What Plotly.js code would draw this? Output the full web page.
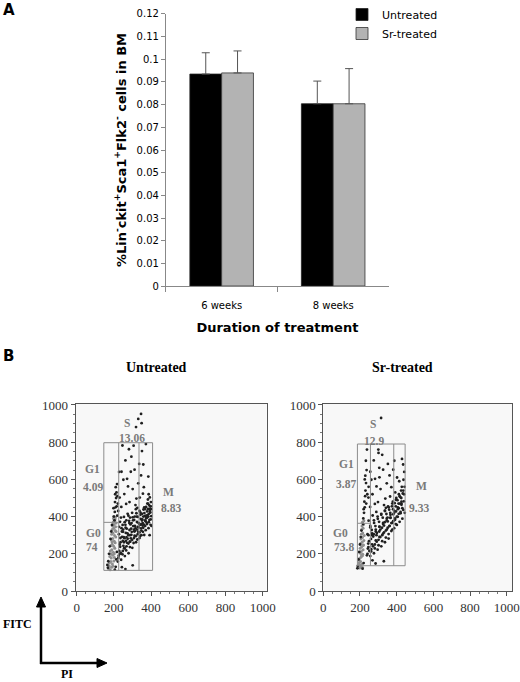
<!DOCTYPE html>
<html>
<head>
<meta charset="utf-8">
<script src="https://cdn.plot.ly/plotly-3.0.1.min.js"></script>
<style>html,body{margin:0;padding:0;background:#fff;}#chart{width:520px;height:682px;}</style>
</head>
<body>
<div id="chart"></div>
<script>
// ---------- Panel A data ----------
const categories = ['6 weeks', '8 weeks'];
const untreatedMean = [0.0935, 0.0804];
const untreatedErr = [0.0094, 0.0100];
const srMean = [0.0940, 0.0804];
const srErr = [0.0097, 0.0155];
const yTickVals = [0, 0.01, 0.02, 0.03, 0.04, 0.05, 0.06, 0.07, 0.08, 0.09, 0.1, 0.11, 0.12];
const yTickText = ['0', '0.01', '0.02', '0.03', '0.04', '0.05', '0.06', '0.07', '0.08', '0.09', '0.1', '0.11', '0.12'];

// ---------- Panel B data (PI on x, FITC on y) ----------
const flowTicks = [0, 200, 400, 600, 800, 1000];
const gateNames = ['G0', 'G1', 'S', 'M'];
const untreatedPct = ['74', '4.09', '13.06', '8.83'];
const srPct = ['73.8', '3.87', '12.9', '9.33'];
// gate edges: left, G1|S, S|M, right  /  bottom, G0|G1, top
const untreatedGateX = [146, 226, 335, 408];
const untreatedGateY = [111, 369, 797];
const srGateX = [186, 257, 384, 446];
const srGateY = [136, 364, 790];

// Untreated: dense G0 population
const untreatedG0PI = [172,180,188,195,176,184,192,200,178,186,194,202,181,189,197,205,183,191,199,207,186,194,202,210,188,196,204,212,191,199,207,193,201,209,196,204,212,198,206,200,208,175,203,190,185];
const untreatedG0FITC = [120,115,128,135,150,158,145,162,185,178,192,200,215,222,208,230,245,252,240,260,275,282,268,290,305,312,298,320,330,338,325,350,358,345,370,378,365,390,385,400,395,135,180,265,200];
// Untreated: other events
const untreatedPI = [168,170,174,178,182,186,190,165,205,210,213,216,
 200,205,209,206,212,214,210,217,203,215,219,221,207,223,198,218,
 224,229,236,227,241,233,246,251,257,249,262,254,266,271,277,269,282,274,286,291,296,289,301,306,311,316,309,321,326,331,336,329,341,346,351,343,356,361,366,359,371,376,381,373,386,391,396,389,393,399,383,379,397,363,319,299,279,259,239,221,244,264,284,304,324,344,364,384,234,254,274,294,314,334,354,374,394,401,387,395,380,368,348,338,285,255,232,247,267,287,312,352,392,402,
 240,256,271,284,301,311,321,262,294,331,346,276,251,316,336,281,306,351,361,241,266,291,326,231,339,356,331,346,349,319,262,301,243,246,372,385,228,358];
const untreatedFITC = [125,160,200,240,280,320,355,140,115,130,170,210,
 400,425,450,478,500,530,558,575,380,455,510,470,520,430,445,405,
 178,215,262,305,338,372,197,243,284,318,356,398,218,259,302,335,377,415,236,283,318,358,396,258,297,338,382,418,277,318,362,398,296,337,379,421,318,357,402,438,327,368,408,452,338,382,422,462,503,478,492,428,356,301,262,232,203,188,168,158,291,312,328,349,371,388,419,441,238,262,281,302,323,342,352,391,441,402,520,455,470,380,300,285,265,230,200,355,380,395,400,415,300,350,
 452,521,603,478,548,652,497,702,722,579,621,562,598,462,683,762,781,752,558,641,468,641,447,502,502,523,925,952,902,881,118,138,128,782,790,615,640,680];
// Untreated: dense S/M body events
const untreatedBodyPI = [226,231,237,243,248,253,258,263,268,273,278,283,288,293,298,303,308,313,318,323,328,333,338,343,348,353,358,363,368,373,378,383,388,393,398,
 228,238,248,258,268,278,288,298,308,318,328,338,348,358,368,378,388,398,
 235,250,265,280,295,310,325,340,355,370,385,400];
const untreatedBodyFITC = [190,250,205,320,215,290,230,340,240,310,255,365,265,335,275,380,285,350,295,400,305,365,315,410,325,385,340,450,350,405,360,470,370,430,385,
 345,395,270,370,290,405,300,420,330,440,345,430,360,400,440,395,415,455,
 285,330,270,300,365,320,330,355,365,375,400,440];

// Sr-treated: dense G0 population
const srG0PI = [190,198,206,214,195,203,211,197,205,213,199,207,215,201,209,217,203,211,219,205,213,221,207,215,223,209,217,211,219,213,221,200,194,216,208];
const srG0FITC = [128,124,132,127,150,158,145,175,182,190,205,212,198,230,238,222,255,262,248,280,288,272,305,312,298,330,338,350,358,370,378,140,165,245,195];
// Sr-treated: other events
const srPI = [188,192,196,200,204,208,186,214,220,
 218,222,226,224,228,230,233,229,236,232,238,220,234,226,240,217,
 238,243,249,241,256,247,261,266,272,264,277,269,281,286,292,284,297,289,301,306,311,304,316,321,326,331,324,336,341,346,351,344,356,361,366,359,371,376,381,374,386,391,396,389,401,406,411,404,416,421,426,419,431,436,439,433,428,437,424,412,441,435,429,417,395,376,356,336,316,296,276,256,246,266,286,306,326,346,366,386,406,426,398,414,379,353,443,444,
 255,268,282,298,312,326,338,275,305,346,361,290,262,331,352,301,321,381,371,256,281,306,341,246,364,392,315,300,402,387,247,285,330,268];
const srFITC = [135,170,210,250,290,325,122,120,150,
 390,420,450,480,510,540,580,620,650,700,760,440,470,600,520,360,
 192,228,268,305,342,378,213,251,293,328,366,406,229,272,312,349,388,425,246,291,330,372,410,268,309,352,394,432,287,330,374,414,306,349,393,437,322,366,412,455,338,383,428,472,355,399,445,488,372,418,463,505,389,436,482,524,560,598,540,520,640,680,710,470,360,330,282,262,240,222,203,188,236,300,320,346,366,390,410,430,450,480,500,590,480,455,560,420,
 452,520,603,478,548,652,497,702,662,579,621,562,598,462,683,742,732,652,558,641,468,611,447,502,508,530,930,760,610,700,560,148,160,165];
// Sr-treated: dense S/M body events
const srBodyPI = [241,246,251,256,261,266,271,276,281,286,291,296,301,306,311,316,321,326,331,336,341,346,351,356,361,366,371,376,381,386,391,396,401,406,411,416,421,426,431,436,
 245,260,275,290,305,320,335,350,365,380,395,410,425,440];
const srBodyFITC = [200,300,215,350,225,310,240,380,250,330,265,400,275,345,290,415,300,360,315,430,325,380,340,450,350,395,365,470,375,420,390,490,400,440,415,510,425,470,445,540,
 255,280,305,300,320,340,370,395,420,440,455,470,500,520];

// ---------- helpers ----------
function gateShapes(gx, gy, xr, yr) {
  const line = {color: '#8c8c8c', width: 1};
  return [
    {type: 'rect', xref: xr, yref: yr, x0: gx[0], x1: gx[3], y0: gy[0], y1: gy[2], line: line},
    {type: 'line', xref: xr, yref: yr, x0: gx[1], x1: gx[1], y0: gy[0], y1: gy[2], line: line},
    {type: 'line', xref: xr, yref: yr, x0: gx[2], x1: gx[2], y0: gy[0], y1: gy[2], line: line},
    {type: 'line', xref: xr, yref: yr, x0: gx[0], x1: gx[1], y0: gy[1], y1: gy[1], line: line}
  ];
}
function gateLabels(pct, pos, xr, yr) {
  const out = [];
  const f = {family: 'Liberation Serif, Times New Roman, serif', size: 11.5, color: '#7a7a7a'};
  for (let i = 0; i < 4; i++) {
    out.push({xref: xr, yref: yr, x: pos[i][0], y: pos[i][1], text: '<b>' + gateNames[i] + '</b>', showarrow: false,
              xanchor: 'center', yanchor: 'middle', font: f});
    out.push({xref: xr, yref: yr, x: pos[i][2], y: pos[i][3], text: '<b>' + pct[i] + '</b>', showarrow: false,
              xanchor: 'center', yanchor: 'middle', font: f});
  }
  return out;
}
// pixel -> paper helpers for the decorative axis-direction arrows
const PX = p => p / 520;
const PY = p => 1 - p / 682;
function pathPaper(pts) {
  return 'M ' + pts.map(p => PX(p[0]) + ',' + PY(p[1])).join(' L ') + ' Z';
}

const sans = 'DejaVu Sans, Verdana, sans-serif';
const serif = 'Liberation Serif, Times New Roman, serif';

const dark = {size: 2.8, color: '#202020'};
const grey = {size: 3, color: '#8f8f8f'};
const traces = [
  {type: 'bar', name: 'Untreated', x: categories, y: untreatedMean, xaxis: 'x', yaxis: 'y',
   marker: {color: '#000000', line: {color: '#222', width: 0.8}},
   error_y: {type: 'data', symmetric: false, array: untreatedErr, arrayminus: [0, 0], color: '#555', thickness: 1, width: 4}},
  {type: 'bar', name: 'Sr-treated', x: categories, y: srMean, xaxis: 'x', yaxis: 'y',
   marker: {color: '#b3b3b3', line: {color: '#333', width: 0.8}},
   error_y: {type: 'data', symmetric: false, array: srErr, arrayminus: [0, 0], color: '#555', thickness: 1, width: 4}},
  {type: 'scatter', mode: 'markers', x: untreatedG0PI, y: untreatedG0FITC, xaxis: 'x2', yaxis: 'y2', showlegend: false, marker: grey, hoverinfo: 'skip'},
  {type: 'scatter', mode: 'markers', x: untreatedPI, y: untreatedFITC, xaxis: 'x2', yaxis: 'y2', showlegend: false, marker: dark, hoverinfo: 'skip'},
  {type: 'scatter', mode: 'markers', x: untreatedBodyPI, y: untreatedBodyFITC, xaxis: 'x2', yaxis: 'y2', showlegend: false, marker: dark, hoverinfo: 'skip'},
  {type: 'scatter', mode: 'markers', x: srG0PI, y: srG0FITC, xaxis: 'x3', yaxis: 'y3', showlegend: false, marker: grey, hoverinfo: 'skip'},
  {type: 'scatter', mode: 'markers', x: srPI, y: srFITC, xaxis: 'x3', yaxis: 'y3', showlegend: false, marker: dark, hoverinfo: 'skip'},
  {type: 'scatter', mode: 'markers', x: srBodyPI, y: srBodyFITC, xaxis: 'x3', yaxis: 'y3', showlegend: false, marker: dark, hoverinfo: 'skip'}
];

const flowAxis = (dom, anchor, rng) => ({
  domain: dom, anchor: anchor, range: rng, showgrid: false, zeroline: false,
  showline: true, mirror: true, linecolor: '#555', linewidth: 1,
  ticks: 'outside', ticklen: 4, tickcolor: '#555', tickvals: flowTicks,
  tickfont: {family: serif, size: 13, color: '#333'},
  minor: {ticks: 'outside', ticklen: 2, dtick: 50, tickcolor: '#777', showgrid: false}
});

const untreatedPos = [[93, 312, 84, 238], [87, 654, 87, 561], [271, 903, 298, 821], [494, 534, 508, 445]];
const srPos = [[96, 312, 114, 238], [125, 683, 125, 577], [273, 896, 277, 808], [536, 565, 523, 445]];

function paperText(px, py, txt, font) {
  return {xref: 'paper', yref: 'paper', x: PX(px), y: PY(py), text: txt, showarrow: false,
          xanchor: 'center', yanchor: 'middle', font: font};
}

const arrowLine = {color: '#000', width: 2.5};
const layout = {
  width: 520, height: 682, autosize: false,
  margin: {l: 0, r: 0, t: 0, b: 0},
  paper_bgcolor: '#ffffff', plot_bgcolor: 'rgba(0,0,0,0)',
  barmode: 'group', bargap: 0.43, bargroupgap: 0,
  showlegend: true,
  legend: {x: 342 / 520, y: 1, xanchor: 'left', yanchor: 'top', bgcolor: 'rgba(0,0,0,0)',
           font: {family: sans, size: 11, color: '#000'}, tracegroupgap: 0, itemwidth: 30},
  xaxis: {domain: [0.319, 0.748], anchor: 'y', range: [-0.5, 1.5], type: 'category',
          showline: true, linecolor: '#888', linewidth: 1, ticks: 'outside', tickson: 'boundaries',
          ticklen: 5, tickcolor: '#888', showgrid: false, ticklabelstandoff: 10,
          tickfont: {family: sans, size: 10, color: '#000'},
          title: {text: '<b>Duration of treatment</b>', font: {family: sans, size: 13, color: '#000'}, standoff: 12}},
  yaxis: {domain: [0.5806, 0.9795], anchor: 'x', range: [0, 0.12], tickvals: yTickVals, ticktext: yTickText,
          showline: true, linecolor: '#888', linewidth: 1, ticks: 'outside', ticklen: 4, tickcolor: '#888',
          showgrid: false, zeroline: false,
          tickfont: {family: sans, size: 10, color: '#000'},
          title: {text: '<b>%Lin<sup>-</sup>ckit<sup>+</sup>Sca1<sup>+</sup>Flk2<sup>-</sup> cells in BM</b>',
                  font: {family: sans, size: 13, color: '#000'}, standoff: 7}},
  xaxis2: flowAxis([0.1456, 0.5129], 'y2', [-5, 1021]),
  yaxis2: flowAxis([0.1334, 0.4076], 'x2', [0, 1005]),
  xaxis3: flowAxis([0.6217, 0.9852], 'y3', [0, 1030]),
  yaxis3: flowAxis([0.1334, 0.4076], 'x3', [0, 1005]),
  shapes: [
    {type: 'rect', xref: 'x2 domain', yref: 'y2 domain', x0: 0, x1: 1, y0: 0, y1: 1, fillcolor: '#f8f8f8', line: {width: 0}, layer: 'below'},
    {type: 'rect', xref: 'x3 domain', yref: 'y3 domain', x0: 0, x1: 1, y0: 0, y1: 1, fillcolor: '#f8f8f8', line: {width: 0}, layer: 'below'},
    {type: 'line', xref: 'paper', yref: 'paper', x0: PX(41), x1: PX(41), y0: PY(664), y1: PY(605), line: arrowLine},
    {type: 'line', xref: 'paper', yref: 'paper', x0: PX(40), x1: PX(99), y0: PY(663), y1: PY(663), line: arrowLine},
    {type: 'path', xref: 'paper', yref: 'paper', path: pathPaper([[36.5, 607], [41, 597], [45.5, 607]]), fillcolor: '#000', line: {color: '#000', width: 1}},
    {type: 'path', xref: 'paper', yref: 'paper', path: pathPaper([[97, 658.5], [107, 663], [97, 667.5]]), fillcolor: '#000', line: {color: '#000', width: 1}}
  ].concat(gateShapes(untreatedGateX, untreatedGateY, 'x2', 'y2'))
   .concat(gateShapes(srGateX, srGateY, 'x3', 'y3')),
  annotations: [
    paperText(9, 10, '<b>A</b>', {family: sans, size: 15, color: '#000'}),
    paperText(8, 356, '<b>B</b>', {family: sans, size: 15, color: '#000'}),
    paperText(156, 367, '<b>Untreated</b>', {family: serif, size: 14, color: '#000'}),
    paperText(402, 367, '<b>Sr-treated</b>', {family: serif, size: 14, color: '#000'}),
    paperText(17, 624, '<b>FITC</b>', {family: serif, size: 12, color: '#000'}),
    paperText(67, 674, '<b>PI</b>', {family: serif, size: 12, color: '#000'})
  ].concat(gateLabels(untreatedPct, untreatedPos, 'x2', 'y2'))
   .concat(gateLabels(srPct, srPos, 'x3', 'y3'))
};

Plotly.newPlot('chart', traces, layout, {staticPlot: true, displayModeBar: false});
</script>
</body>
</html>
